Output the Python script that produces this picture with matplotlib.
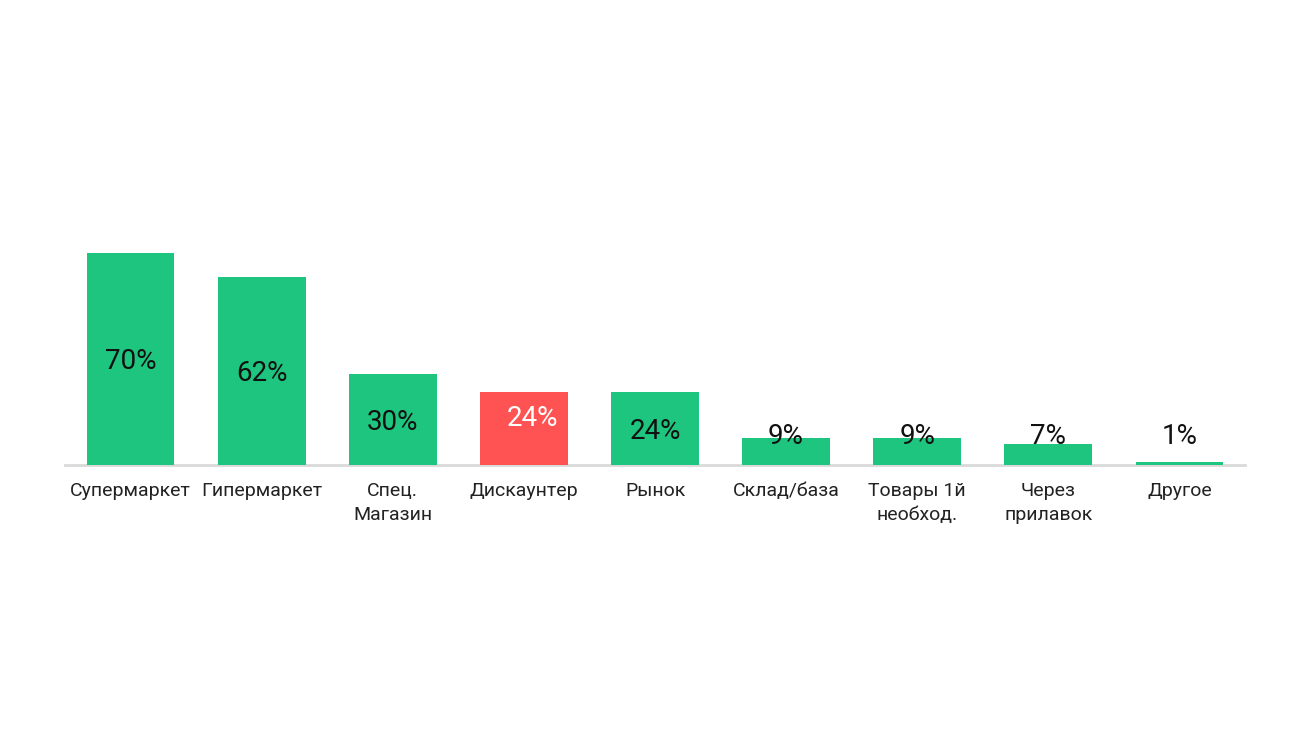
import matplotlib.pyplot as plt

plt.rcParams["font.family"] = ["Roboto", "DejaVu Sans"]

CATEGORIES = [
    "Супермаркет",
    "Гипермаркет",
    "Спец.\nМагазин",
    "Дискаунтер",
    "Рынок",
    "Склад/база",
    "Товары 1й\nнеобход.",
    "Через\nприлавок",
    "Другое",
]
VALUES = [70, 62, 30, 24, 24, 9, 9, 7, 1]
HIGHLIGHT = "Дискаунтер"

GREEN = "#1dc57f"
RED = "#ff5252"


def main():
    fig = plt.figure(figsize=(13, 7.31), dpi=100)
    ax = fig.add_axes([0.05, 0.3639, 0.9077, 0.33])

    x = list(range(len(VALUES)))
    colors = [RED if c == HIGHLIGHT else GREEN for c in CATEGORIES]
    ax.bar(x, VALUES, width=0.67, color=colors, zorder=2)

    ax.set_xlim(-0.5, len(VALUES) - 0.5)
    ax.set_ylim(0, 241.2 / 3.03)

    # labels sit mid-bar, but never lower than a floor for the short bars
    floor = 10.2
    for i, (c, v) in enumerate(zip(CATEGORIES, VALUES)):
        highlight = c == HIGHLIGHT
        ax.annotate(
            f"{v}%",
            (i, max(v / 2, floor)),
            xytext=(6, 7) if highlight else (0, -2),
            textcoords="offset points",
            ha="center",
            va="center",
            fontsize=20,
            color="white" if highlight else "#111111",
            zorder=3,
        )

    for side in ["top", "right", "left"]:
        ax.spines[side].set_visible(False)
    ax.spines["bottom"].set_color("#d9d9d9")
    ax.spines["bottom"].set_linewidth(2)
    ax.spines["bottom"].set_zorder(1)

    ax.set_yticks([])
    ax.set_xticks(x)
    ax.set_xticklabels(CATEGORIES, fontsize=14, color="#222222", linespacing=1.45)
    ax.tick_params(axis="x", length=0, pad=12)

    fig.savefig("out.png", dpi=100)
    plt.close(fig)


if __name__ == "__main__":
    main()
